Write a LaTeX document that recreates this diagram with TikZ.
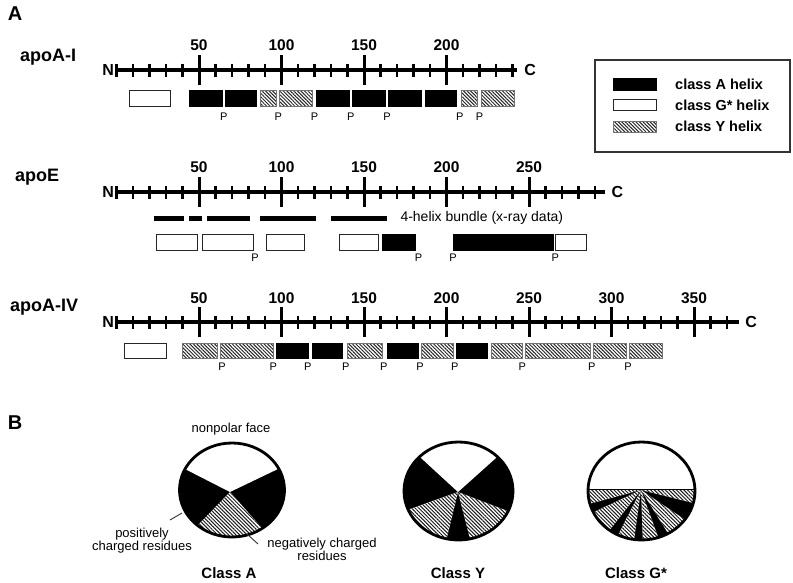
\documentclass[tikz,border=0pt]{standalone}
\usepackage{fontspec}
\setmainfont{Liberation Sans}
\usetikzlibrary{patterns.meta}

\tikzset{
	ruler/.style={line width=3.2pt},
	bigtick/.style={line width=3pt},
	smalltick/.style={line width=2.8pt},
	helixA/.style={fill=black, draw=black, line width=0.8pt},
	helixG/.style={fill=white, draw=black!85, line width=1pt},
	helixY/.style={preaction={fill=white}, pattern={Lines[angle=-45,distance=2.5pt,line width=1pt]}, pattern color=black!85, draw=black!55, line width=0.8pt},
	hatch/.style={preaction={fill=white}, pattern={Lines[angle=-45,distance=2.6pt,line width=1pt]}, pattern color=black!90},
	bundle/.style={line width=5pt},
	pieline/.style={line width=2.8pt},
	panel/.style={font=\fontsize{20}{22}\selectfont\bfseries, inner sep=0pt},
	protname/.style={font=\fontsize{18}{20}\selectfont\bfseries, inner sep=0pt, anchor=west},
	numlabel/.style={font=\fontsize{15.5}{17}\selectfont\bfseries, inner sep=0pt},
	endlabel/.style={font=\fontsize{16}{18}\selectfont\bfseries, inner sep=0pt},
	plabel/.style={font=\fontsize{11}{12}\selectfont, inner sep=0pt},
	legtext/.style={font=\fontsize{14.5}{16}\selectfont\bfseries, inner sep=0pt, anchor=west},
	smalltext/.style={font=\fontsize{13}{11}\selectfont, inner sep=0pt},
	classname/.style={font=\fontsize{15}{17}\selectfont\bfseries, inner sep=0pt},
}

\begin{document}
\begin{tikzpicture}[x=1pt, y=-1pt]
	\useasboundingbox (0,0) rectangle (793,582);

	\node[panel] (panelA) at (15,14) {A};
	\node[panel] (panelB) at (15,423) {B};

	% apoA-I
	\node[protname] (nameI) at (20,57) {apoA-I};
	\begin{scope}[shift={(116.5,70)}, x=1.65pt]
		\draw[ruler] (0,0) -- (243,0);
		\foreach \r in {0,10,...,240} \draw[smalltick] (\r,-6.5) -- (\r,6.5);
		\foreach \r in {50,100,150,200} {
			\draw[bigtick] (\r,-15) -- (\r,15);
			\node[numlabel] (numI-\r) at (\r,-25) {\r};
		}
		\node[endlabel, anchor=east] (nI) at (-1.5,0) {N};
		\node[endlabel, anchor=west] (cI) at (247,0) {C};
		\foreach \a/\b/\s in {8/33/helixG, 44/64/helixA, 66/85/helixA, 87/97/helixY, 99/119/helixY, 121/141/helixA,
			143/163/helixA, 165/185/helixA, 187/206/helixA, 209/219/helixY, 221/241/helixY}
			\draw[\s] (\a,20) rectangle (\b,36);
		\foreach \r in {65,98,120,142,164,208,220} \node[plabel] (pI-\r) at (\r,47) {P};
	\end{scope}

	% legend
	\draw[line width=1.3pt, black!80] (595,60) rectangle (790,152);
	\draw[helixA] (613,78) rectangle (656,90);
	\draw[helixG] (613,99) rectangle (656,110);
	\draw[helixY] (613,121) rectangle (656,132);
	\node[legtext] (legA) at (675,84) {class A helix};
	\node[legtext] (legG) at (675,105) {class G* helix};
	\node[legtext] (legY) at (675,126) {class Y helix};

	% apoE
	\node[protname] (nameE) at (15,177) {apoE};
	\begin{scope}[shift={(116.5,192)}, x=1.65pt]
		\draw[ruler] (0,0) -- (296,0);
		\foreach \r in {0,10,...,290} \draw[smalltick] (\r,-6.5) -- (\r,6.5);
		\foreach \r in {50,100,150,200,250} {
			\draw[bigtick] (\r,-15) -- (\r,15);
			\node[numlabel] (numE-\r) at (\r,-25) {\r};
		}
		\node[endlabel, anchor=east] (nE) at (-1.5,0) {N};
		\node[endlabel, anchor=west] (cE) at (300,0) {C};
		\foreach \a/\b in {23/41, 44/52, 55/81, 87/121, 130/164} \draw[bundle] (\a,26) -- (\b,26);
		\node[font=\fontsize{14}{16}\selectfont, inner sep=0pt, anchor=west] (bundletext) at (172,26) {4-helix bundle (x-ray data)};
		\foreach \a/\b/\s in {24/49/helixG, 52/83/helixG, 91/114/helixG, 135/159/helixG, 161/181/helixA,
			204/265/helixA, 266/285/helixG}
			\draw[\s] (\a,42) rectangle (\b,58);
		\foreach \r in {84,183,204,266} \node[plabel] (pE-\r) at (\r,66) {P};
	\end{scope}

	% apoA-IV
	\node[protname] (nameIV) at (10,307) {apoA-IV};
	\begin{scope}[shift={(116.5,322)}, x=1.65pt]
		\draw[ruler] (0,0) -- (377,0);
		\foreach \r in {0,10,...,370} \draw[smalltick] (\r,-6.5) -- (\r,6.5);
		\foreach \r in {50,100,...,350} {
			\draw[bigtick] (\r,-15) -- (\r,15);
			\node[numlabel] (numIV-\r) at (\r,-24) {\r};
		}
		\node[endlabel, anchor=east] (nIV) at (-1.5,0) {N};
		\node[endlabel, anchor=west] (cIV) at (381,0) {C};
		\foreach \a/\b/\s in {5/30/helixG, 40/61/helixY, 63/95/helixY, 97/116/helixA, 119/137/helixA, 140/161/helixY,
			164/183/helixA, 185/204/helixY, 206/225/helixA, 227/246/helixY, 248/287/helixY, 289/309/helixY, 311/331/helixY}
			\draw[\s] (\a,21) rectangle (\b,36);
		\foreach \r in {64,95,116,139,162,184,205,246,288,310} \node[plabel] (pIV-\r) at (\r,45) {P};
	\end{scope}

	% class A wheel
	\begin{scope}
		\clip (232,490) ellipse [x radius=52.5, y radius=47];
		\fill[black] (232,490) ellipse [x radius=52.5, y radius=47];
		\fill[white] (230,492) -- (136,444) -- (136,400) -- (330,400) -- (330,444) -- cycle;
		\fill[hatch] (230,492) -- (166,558) -- (294,564) -- cycle;
	\end{scope}
	\draw[pieline] (232,490) ellipse [x radius=52.5, y radius=47];
	\node[smalltext] (npface) at (231,429) {nonpolar face};
	\node[smalltext] (postext) at (142,541) {\begin{tabular}{@{}c@{}}positively\\charged residues\end{tabular}};
	\node[smalltext] (negtext) at (322,551) {\begin{tabular}{@{}c@{}}negatively charged\\residues\end{tabular}};
	\coordinate (posfrom) at (170,520);
	\coordinate (posto) at (182,513);
	\coordinate (negfrom) at (247,534);
	\coordinate (negto) at (258,544);
	\draw[line width=0.9pt, black!80] (posfrom) -- (posto);
	\draw[line width=0.9pt, black!80] (negfrom) -- (negto);
	\node[classname] (classA) at (229,573) {Class A};

	% class Y wheel
	\begin{scope}
		\clip (458.5,491) ellipse [x radius=54.5, y radius=49];
		\fill[black] (458.5,491) ellipse [x radius=54.5, y radius=49];
		\fill[white] (458,492) -- (384,424) -- (384,400) -- (534,400) -- (534,424) -- cycle;
		\fill[hatch] (458,492) -- (368,524) -- (380,592) -- (438,574) -- cycle;
		\fill[hatch] (458,492) -- (480,578) -- (540,592) -- (552,528) -- cycle;
	\end{scope}
	\draw[pieline] (458.5,491) ellipse [x radius=54.5, y radius=49];
	\node[classname] (classY) at (458,573) {Class Y};

	% class G* wheel
	\begin{scope}
		\clip (641.5,491) ellipse [x radius=53.5, y radius=49];
		\fill[black] (641.5,491) ellipse [x radius=53.5, y radius=49];
		\fill[white] (580,430) rectangle (705,490);
		\foreach \a/\b in {0/14, 34/58, 70/88, 98/117, 128/155, 165/180}
			\fill[hatch] (641,490) -- +(\a:90) -- +(\b:90) -- cycle;
		\draw[line width=1.3pt] (580,489.5) -- (705,489.5);
	\end{scope}
	\draw[pieline] (641.5,491) ellipse [x radius=53.5, y radius=49];
	\node[classname] (classG) at (636,573) {Class G*};
\end{tikzpicture}
\end{document}
